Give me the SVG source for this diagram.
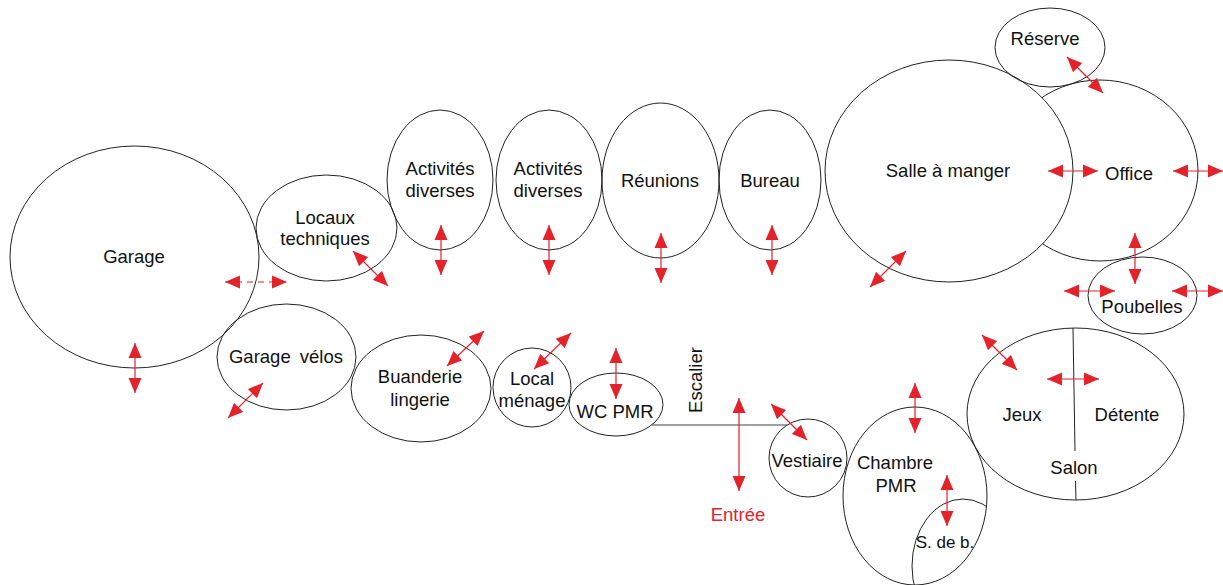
<svg xmlns="http://www.w3.org/2000/svg" width="1223" height="585" viewBox="0 0 1223 585">
<style>
.n{fill:none;stroke:#222;stroke-width:1}
.w{fill:#fff;stroke:#222;stroke-width:1}
.t{font-family:"Liberation Sans",Arial,sans-serif;font-size:18.5px;fill:#111;text-anchor:middle}
.r{fill:#e3222a}
.a{stroke:#e3222a;stroke-width:1.2;fill:none;marker-start:url(#ah);marker-end:url(#ah)}
.d{stroke-dasharray:6,5}
</style>
<defs>
<marker id="ah" markerUnits="userSpaceOnUse" markerWidth="16" markerHeight="14" refX="15" refY="6.5" orient="auto-start-reverse" viewBox="0 0 16 13">
<path d="M0,0 L15,6.5 L0,13 Z" fill="#e3222a"/>
</marker>
<clipPath id="cc"><ellipse cx="915" cy="496" rx="72" ry="89"/></clipPath>
</defs>
<g id="garage"><ellipse class="n" cx="134.5" cy="257" rx="124.5" ry="111"/><text class="t" x="134" y="263">Garage</text></g>
<g id="locaux"><ellipse class="n" cx="326.5" cy="228" rx="70.5" ry="53"/><text class="t" x="325" y="224">Locaux</text><text class="t" x="325" y="245">techniques</text></g>
<g id="velos"><ellipse class="n" cx="286.5" cy="357" rx="69.5" ry="53"/><text class="t" x="286" y="363" word-spacing="4">Garage vélos</text></g>
<g id="activites1"><ellipse class="n" cx="440" cy="180" rx="53" ry="70"/><text class="t" x="440" y="175">Activités</text><text class="t" x="440" y="197">diverses</text></g>
<g id="activites2"><ellipse class="n" cx="549" cy="180" rx="53" ry="70"/><text class="t" x="548" y="175">Activités</text><text class="t" x="548" y="197">diverses</text></g>
<g id="reunions"><ellipse class="n" cx="660.5" cy="180.5" rx="58.5" ry="77.5"/><text class="t" x="660" y="187">Réunions</text></g>
<g id="bureau"><ellipse class="n" cx="770" cy="180" rx="51" ry="70"/><text class="t" x="770" y="187">Bureau</text></g>
<g id="office"><ellipse class="w" cx="1100" cy="170.5" rx="98" ry="90.5"/><text class="t" x="1129" y="180">Office</text></g>
<g id="salle"><ellipse class="w" cx="949" cy="171" rx="124" ry="111"/><text class="t" x="948" y="177">Salle à manger</text></g>
<g id="reserve"><ellipse class="n" cx="1050" cy="47.5" rx="55" ry="39.5"/><text class="t" x="1045" y="45">Réserve</text></g>
<g id="poubelles"><ellipse class="n" cx="1142.5" cy="295.5" rx="54.5" ry="38.5"/><text class="t" x="1142" y="313">Poubelles</text></g>
<g id="buanderie"><ellipse class="n" cx="421" cy="388.5" rx="70" ry="53.5"/><text class="t" x="420" y="383">Buanderie</text><text class="t" x="420" y="406">lingerie</text></g>
<g id="menage"><ellipse class="n" cx="532" cy="387.5" rx="39" ry="39.5"/><text class="t" x="532" y="385">Local</text><text class="t" x="532" y="407">ménage</text></g>
<g id="wc"><ellipse class="n" cx="616" cy="404.5" rx="47" ry="31.5"/><text class="t" x="615" y="418">WC PMR</text></g>
<g id="escalier"><line x1="652" y1="425" x2="787" y2="425" stroke="#444" stroke-width="1.2"/><text class="t" transform="translate(702,380) rotate(-90)">Escalier</text></g>
<g id="vestiaire"><ellipse class="n" cx="808" cy="458" rx="39" ry="39"/><text class="t" x="807" y="467">Vestiaire</text></g>
<g id="chambre"><ellipse class="n" cx="915" cy="496" rx="72" ry="89"/><text class="t" x="895" y="469">Chambre</text><text class="t" x="896" y="492">PMR</text></g>
<g id="sdb"><ellipse class="n" cx="963" cy="566" rx="51" ry="67" clip-path="url(#cc)"/><text class="t" x="945" y="548" style="font-size:17px">S. de b.</text></g>
<g id="salon"><ellipse class="n" cx="1075.5" cy="414" rx="108.5" ry="86"/><line x1="1073" y1="328" x2="1075" y2="451" stroke="#222"/><line x1="1075.5" y1="481" x2="1076" y2="500" stroke="#222"/><text class="t" x="1022" y="421">Jeux</text><text class="t" x="1127" y="421">Détente</text><text class="t" x="1074" y="474">Salon</text></g>
<g id="entree"><text class="t" x="738" y="521" style="fill:#e3222a">Entrée</text></g>
<g id="connectors">
<line class="a" x1="135" y1="343" x2="135" y2="393"/>
<line class="a d" x1="225" y1="282" x2="287" y2="282"/>
<line class="a" x1="353" y1="251" x2="388" y2="286"/>
<line class="a" x1="228" y1="418" x2="263" y2="383"/>
<line class="a" x1="441" y1="225" x2="441" y2="275"/>
<line class="a" x1="549" y1="225" x2="549" y2="275"/>
<line class="a" x1="661" y1="233" x2="661" y2="283"/>
<line class="a" x1="772" y1="225" x2="772" y2="275"/>
<line class="a" x1="1067" y1="57" x2="1103" y2="93"/>
<line class="a" x1="1048" y1="171" x2="1098" y2="171"/>
<line class="a" x1="1173" y1="171" x2="1223" y2="171"/>
<line class="a" x1="1135" y1="233" x2="1135" y2="284"/>
<line class="a" x1="1064" y1="291" x2="1115" y2="291"/>
<line class="a" x1="1172" y1="291" x2="1223" y2="291"/>
<line class="a" x1="870" y1="287" x2="906" y2="251"/>
<line class="a" x1="447" y1="366" x2="484" y2="331"/>
<line class="a" x1="534" y1="369" x2="571" y2="333"/>
<line class="a" x1="616" y1="348" x2="616" y2="399"/>
<line class="a" x1="739" y1="398" x2="739" y2="491"/>
<line class="a" x1="771" y1="404" x2="807" y2="440"/>
<line class="a" x1="982" y1="335" x2="1017" y2="370"/>
<line class="a" x1="1047" y1="379" x2="1099" y2="379"/>
<line class="a" x1="915" y1="383" x2="915" y2="433"/>
<line class="a" x1="947" y1="475" x2="947" y2="526"/>
</g>
</svg>
